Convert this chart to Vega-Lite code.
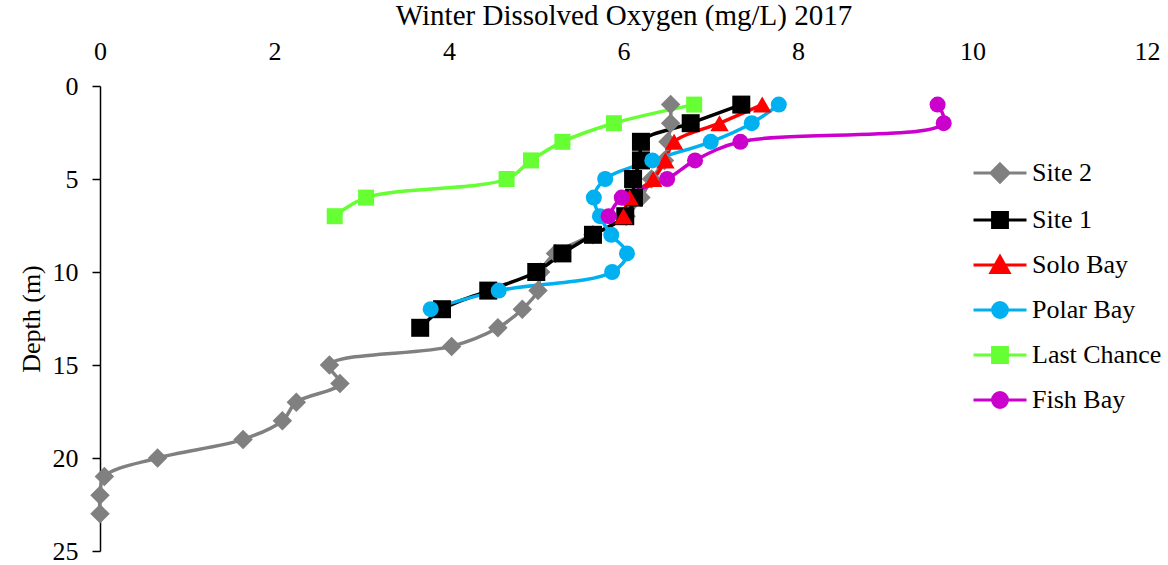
{
  "$schema": "https://vega.github.io/schema/vega-lite/v6.json",
  "autosize": "none",
  "padding": {"left": 100, "top": 86, "right": 21, "bottom": 14},
  "width": 1047,
  "height": 465,
  "background": "white",
  "config": {
    "view": {"stroke": null},
    "font": "Liberation Serif",
    "axis": {"labelFont": "Liberation Serif", "titleFont": "Liberation Serif", "labelColor": "#000", "titleColor": "#000", "titleFontWeight": "normal", "grid": false},
    "legend": {"labelFont": "Liberation Serif", "labelColor": "#000"}
  },
  "data": {"values": [
    {"site": "Site 2", "depth": 1, "do": 6.54},
    {"site": "Site 2", "depth": 2, "do": 6.54},
    {"site": "Site 2", "depth": 3, "do": 6.51},
    {"site": "Site 2", "depth": 4, "do": 6.47},
    {"site": "Site 2", "depth": 5, "do": 6.32},
    {"site": "Site 2", "depth": 6, "do": 6.2},
    {"site": "Site 2", "depth": 7, "do": 6.03},
    {"site": "Site 2", "depth": 8, "do": 5.65},
    {"site": "Site 2", "depth": 9, "do": 5.22},
    {"site": "Site 2", "depth": 10, "do": 5.05},
    {"site": "Site 2", "depth": 11, "do": 5.02},
    {"site": "Site 2", "depth": 12, "do": 4.84},
    {"site": "Site 2", "depth": 13, "do": 4.56},
    {"site": "Site 2", "depth": 14, "do": 4.03},
    {"site": "Site 2", "depth": 15, "do": 2.63},
    {"site": "Site 2", "depth": 16, "do": 2.75},
    {"site": "Site 2", "depth": 17, "do": 2.25},
    {"site": "Site 2", "depth": 18, "do": 2.09},
    {"site": "Site 2", "depth": 19, "do": 1.64},
    {"site": "Site 2", "depth": 20, "do": 0.66},
    {"site": "Site 2", "depth": 21, "do": 0.05},
    {"site": "Site 2", "depth": 22, "do": 0.0},
    {"site": "Site 2", "depth": 23, "do": 0.0},
    {"site": "Site 1", "depth": 1, "do": 7.35},
    {"site": "Site 1", "depth": 2, "do": 6.77},
    {"site": "Site 1", "depth": 3, "do": 6.2},
    {"site": "Site 1", "depth": 4, "do": 6.2},
    {"site": "Site 1", "depth": 5, "do": 6.11},
    {"site": "Site 1", "depth": 6, "do": 6.12},
    {"site": "Site 1", "depth": 7, "do": 6.02},
    {"site": "Site 1", "depth": 8, "do": 5.65},
    {"site": "Site 1", "depth": 9, "do": 5.3},
    {"site": "Site 1", "depth": 10, "do": 5.0},
    {"site": "Site 1", "depth": 11, "do": 4.45},
    {"site": "Site 1", "depth": 12, "do": 3.92},
    {"site": "Site 1", "depth": 13, "do": 3.67},
    {"site": "Solo Bay", "depth": 1, "do": 7.59},
    {"site": "Solo Bay", "depth": 2, "do": 7.1},
    {"site": "Solo Bay", "depth": 3, "do": 6.58},
    {"site": "Solo Bay", "depth": 4, "do": 6.48},
    {"site": "Solo Bay", "depth": 5, "do": 6.34},
    {"site": "Solo Bay", "depth": 6, "do": 6.07},
    {"site": "Solo Bay", "depth": 7, "do": 6.0},
    {"site": "Polar Bay", "depth": 1, "do": 7.78},
    {"site": "Polar Bay", "depth": 2, "do": 7.47},
    {"site": "Polar Bay", "depth": 3, "do": 7.0},
    {"site": "Polar Bay", "depth": 4, "do": 6.33},
    {"site": "Polar Bay", "depth": 5, "do": 5.79},
    {"site": "Polar Bay", "depth": 6, "do": 5.66},
    {"site": "Polar Bay", "depth": 7, "do": 5.73},
    {"site": "Polar Bay", "depth": 8, "do": 5.86},
    {"site": "Polar Bay", "depth": 9, "do": 6.04},
    {"site": "Polar Bay", "depth": 10, "do": 5.87},
    {"site": "Polar Bay", "depth": 11, "do": 4.57},
    {"site": "Polar Bay", "depth": 12, "do": 3.79},
    {"site": "Last Chance", "depth": 1, "do": 6.81},
    {"site": "Last Chance", "depth": 2, "do": 5.89},
    {"site": "Last Chance", "depth": 3, "do": 5.3},
    {"site": "Last Chance", "depth": 4, "do": 4.94},
    {"site": "Last Chance", "depth": 5, "do": 4.66},
    {"site": "Last Chance", "depth": 6, "do": 3.05},
    {"site": "Last Chance", "depth": 7, "do": 2.69},
    {"site": "Fish Bay", "depth": 1, "do": 9.6},
    {"site": "Fish Bay", "depth": 2, "do": 9.67},
    {"site": "Fish Bay", "depth": 3, "do": 7.34},
    {"site": "Fish Bay", "depth": 4, "do": 6.82},
    {"site": "Fish Bay", "depth": 5, "do": 6.5},
    {"site": "Fish Bay", "depth": 6, "do": 5.98},
    {"site": "Fish Bay", "depth": 7, "do": 5.83}
  ]},
  "encoding": {
    "x": {
      "field": "do", "type": "quantitative",
      "scale": {"domain": [0, 12], "nice": false, "zero": false},
      "axis": {
        "orient": "top", "title": "Winter Dissolved Oxygen (mg/L) 2017",
        "values": [0, 2, 4, 6, 8, 10, 12], "domain": false, "ticks": false, "labelFlush": false,
        "labelFont": "Liberation Serif", "titleFont": "Liberation Serif",
        "labelFontSize": 26, "labelPadding": 22, "titleFontSize": 29, "titlePadding": 8
      }
    },
    "y": {
      "field": "depth", "type": "quantitative",
      "scale": {"domain": [0, 25], "reverse": true, "nice": false, "zero": false},
      "axis": {
        "title": "Depth (m)", "values": [0, 5, 10, 15, 20, 25], "labelFlush": false,
        "labelFont": "Liberation Serif", "titleFont": "Liberation Serif",
        "domainColor": "#000", "domainWidth": 1.5, "tickColor": "#000", "tickWidth": 1.5, "tickSize": 8,
        "labelFontSize": 26, "labelPadding": 14, "titleFontSize": 26, "titlePadding": 8
      }
    },
    "color": {
      "field": "site", "type": "nominal",
      "scale": {
        "domain": ["Site 2", "Site 1", "Solo Bay", "Polar Bay", "Last Chance", "Fish Bay"],
        "range": ["#808080", "#000000", "#FF0000", "#00B0F0", "#66FF33", "#CC00CC"]
      },
      "legend": {
        "title": null, "orient": "none", "legendX": 872, "legendY": 59, "padding": 0,
        "labelFont": "Liberation Serif",
        "labelFontSize": 26, "labelOffset": 4, "symbolSize": 2809, "symbolStrokeWidth": 3,
        "rowPadding": 3,
        "encode": {
          "symbols": {
            "update": {
              "shape": {"signal": "datum.value === 'Site 2' ? 'M-1,0H1M0,-0.34L0.34,0L0,0.34L-0.34,0Z' : (datum.value === 'Site 1' || datum.value === 'Last Chance') ? 'M-1,0H1M-0.28,-0.28H0.28V0.28H-0.28Z' : datum.value === 'Solo Bay' ? 'M-1,0H1M0,-0.32L0.34,0.28H-0.34Z' : 'M-1,0H1M-0.28,0A0.28,0.28 0 1,0 0.28,0A0.28,0.28 0 1,0 -0.28,0Z'"},
              "size": {"value": 2809},
              "fill": {"signal": "scale('color', datum.value)"},
              "stroke": {"signal": "scale('color', datum.value)"},
              "fillOpacity": {"value": 1},
              "strokeOpacity": {"value": 1},
              "opacity": {"value": 1},
              "strokeWidth": {"value": 3}
            }
          }
        }
      }
    }
  },
  "layer": [
    {
      "mark": {"type": "line", "interpolate": "catmull-rom", "strokeWidth": 3.5},
      "encoding": {"order": {"field": "depth", "type": "quantitative"}}
    },
    {
      "transform": [{"filter": "datum.site === 'Site 2'"}],
      "mark": {"type": "point", "filled": true, "opacity": 1, "shape": "diamond", "size": 380}
    },
    {
      "transform": [{"filter": "datum.site === 'Site 1'"}],
      "mark": {"type": "point", "filled": true, "opacity": 1, "shape": "square", "size": 324}
    },
    {
      "transform": [{"filter": "datum.site === 'Solo Bay'"}],
      "mark": {"type": "point", "filled": true, "opacity": 1, "shape": "triangle-up", "size": 340}
    },
    {
      "transform": [{"filter": "datum.site === 'Polar Bay'"}],
      "mark": {"type": "point", "filled": true, "opacity": 1, "shape": "circle", "size": 256}
    },
    {
      "transform": [{"filter": "datum.site === 'Last Chance'"}],
      "mark": {"type": "point", "filled": true, "opacity": 1, "shape": "square", "size": 256}
    },
    {
      "transform": [{"filter": "datum.site === 'Fish Bay'"}],
      "mark": {"type": "point", "filled": true, "opacity": 1, "shape": "circle", "size": 256}
    }
  ]
}
